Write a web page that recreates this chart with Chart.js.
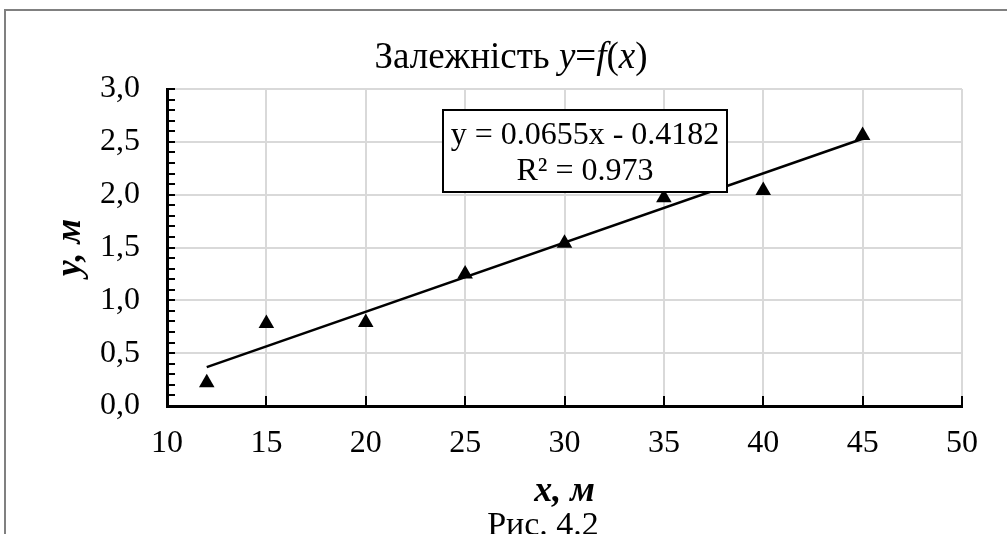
<!DOCTYPE html>
<html>
<head>
<meta charset="utf-8">
<title>Залежність y=f(x)</title>
<script src="https://cdn.jsdelivr.net/npm/chart.js@4.4.0/dist/chart.umd.min.js"></script>
<style>
    html, body { margin: 0; padding: 0; background: #fff; }
    canvas { display: block; }
</style>
</head>
<body>
<canvas id="chart" width="1007" height="534"></canvas>
<script>
// Measured points
const xValues = [12, 15, 20, 25, 30, 35, 40, 45];
const yValues = [0.22, 0.78, 0.79, 1.25, 1.54, 1.97, 2.04, 2.56];

// Linear trend (from the fitted equation)
const trendSlope = 0.0655;
const trendIntercept = -0.4182;
const trendR2 = 0.973;
const trendRange = [12, 45];

// Axis ranges / tick steps
const xAxis = { min: 10, max: 50, step: 5 };
const yAxis = { min: 0, max: 3, step: 0.5, minorStep: 0.1 };

const serif = "'Liberation Serif', 'Times New Roman', serif";

const points = xValues.map((x, i) => ({ x: x, y: yValues[i] }));
const trendPoints = trendRange.map(x => ({ x: x, y: trendSlope * x + trendIntercept }));

const isMajorY = v => Math.abs(v / yAxis.step - Math.round(v / yAxis.step)) < 1e-6;

// Gray frame, title, caption and the equation box
const decorations = {
    id: 'decorations',
    beforeDraw(chart) {
        const ctx = chart.ctx;
        ctx.save();
        ctx.fillStyle = '#fff';
        ctx.fillRect(0, 0, chart.width, chart.height);
        ctx.strokeStyle = '#808080';
        ctx.lineWidth = 2;
        ctx.beginPath();
        ctx.moveTo(5, chart.height);
        ctx.lineTo(5, 10);
        ctx.lineTo(chart.width, 10);
        ctx.stroke();
        ctx.restore();
    },
    afterDraw(chart) {
        const ctx = chart.ctx;
        ctx.save();
        ctx.fillStyle = '#000';
        ctx.textBaseline = 'alphabetic';

        // title with italic variables
        const parts = [
            ['Залежність ', false], ['y', true], ['=', false],
            ['f', true], ['(', false], ['x', true], [')', false]
        ];
        const size = 37;
        const fontOf = it => (it ? 'italic ' : '') + size + 'px ' + serif;
        let total = 0;
        parts.forEach(p => { ctx.font = fontOf(p[1]); total += ctx.measureText(p[0]).width; });
        let x = 511 - total / 2;
        ctx.textAlign = 'left';
        parts.forEach(p => {
            ctx.font = fontOf(p[1]);
            ctx.fillText(p[0], x, 68);
            x += ctx.measureText(p[0]).width;
        });

        // figure caption
        ctx.textAlign = 'center';
        ctx.font = '34px ' + serif;
        ctx.fillText('Рис. 4.2', 543, 535);

        // trendline equation box
        const bx = 443, by = 110, bw = 284, bh = 82;
        ctx.fillStyle = '#fff';
        ctx.fillRect(bx, by, bw, bh);
        ctx.strokeStyle = '#000';
        ctx.lineWidth = 2;
        ctx.strokeRect(bx, by, bw, bh);
        ctx.fillStyle = '#000';
        ctx.font = '32px ' + serif;
        const sign = trendIntercept < 0 ? ' - ' : ' + ';
        ctx.fillText('y = ' + trendSlope + 'x' + sign + Math.abs(trendIntercept), bx + bw / 2, 144);
        ctx.fillText('R² = ' + trendR2, bx + bw / 2, 180);
        ctx.restore();
    }
};

const ctx = document.getElementById('chart').getContext('2d');
new Chart(ctx, {
    type: 'scatter',
    data: {
        datasets: [
            {
                label: 'y',
                data: points,
                pointStyle: 'triangle',
                pointRadius: 9,
                pointHoverRadius: 9,
                backgroundColor: '#000',
                borderColor: '#000',
                borderWidth: 0,
                order: 2
            },
            {
                type: 'line',
                label: 'trend',
                data: trendPoints,
                borderColor: '#000',
                borderWidth: 2.5,
                pointRadius: 0,
                fill: false,
                order: 1
            }
        ]
    },
    options: {
        responsive: false,
        animation: false,
        layout: { padding: { top: 89, right: 45, bottom: 0, left: 0 } },
        plugins: {
            legend: { display: false },
            tooltip: { enabled: false }
        },
        scales: {
            x: {
                type: 'linear',
                min: xAxis.min,
                max: xAxis.max,
                ticks: {
                    stepSize: xAxis.step,
                    padding: 28,
                    color: '#000',
                    autoSkip: false,
                    maxRotation: 0,
                    font: { family: serif, size: 32 }
                },
                grid: {
                    color: '#d9d9d9',
                    lineWidth: 2,
                    tickColor: '#000',
                    tickWidth: 2,
                    tickLength: -10
                },
                border: { color: '#000', width: 3 },
                title: {
                    display: true,
                    text: 'x, м',
                    color: '#000',
                    font: { family: serif, size: 36, style: 'italic', weight: 'bold' },
                    padding: { top: 0, bottom: 21 }
                },
                afterFit: scale => { scale.height = 128; }
            },
            y: {
                type: 'linear',
                min: yAxis.min,
                max: yAxis.max,
                ticks: {
                    stepSize: yAxis.minorStep,
                    padding: 35,
                    color: '#000',
                    autoSkip: false,
                    font: { family: serif, size: 32 },
                    callback: v => isMajorY(v) ? v.toFixed(1).replace('.', ',') : ''
                },
                grid: {
                    color: c => (c.tick && isMajorY(c.tick.value)) ? '#d9d9d9' : 'rgba(0,0,0,0)',
                    lineWidth: 2,
                    tickColor: '#000',
                    tickWidth: 2,
                    tickLength: -8
                },
                border: { color: '#000', width: 3 },
                title: {
                    display: true,
                    text: 'y, м',
                    color: '#000',
                    font: { family: serif, size: 36, style: 'italic', weight: 'bold' },
                    padding: { top: 49, bottom: 0 }
                },
                afterFit: scale => { scale.width = 167; }
            }
        }
    },
    plugins: [decorations]
});
</script>
</body>
</html>
